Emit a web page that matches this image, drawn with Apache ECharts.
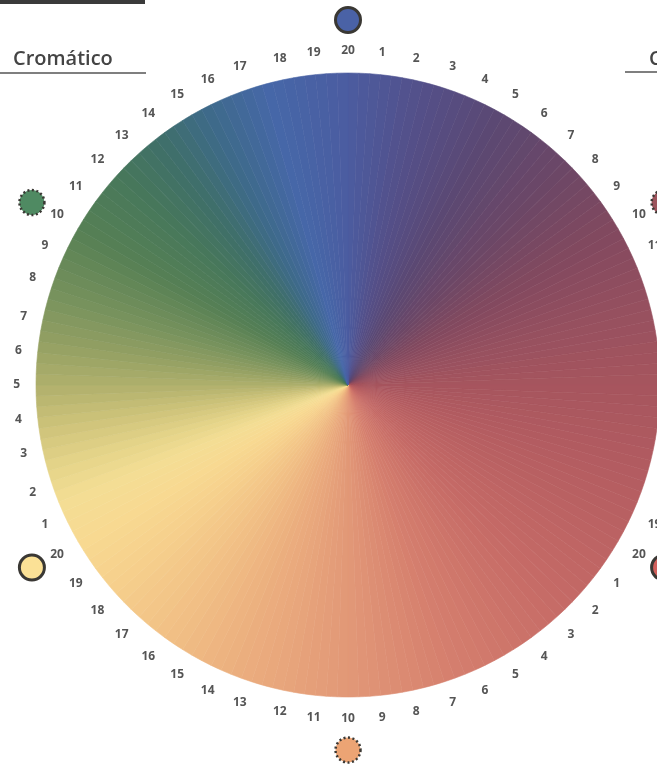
<!DOCTYPE html>
<html>
<head>
<meta charset="utf-8">
<title>Círculo cromático</title>
<script src="https://cdn.jsdelivr.net/npm/echarts@6/dist/echarts.min.js"></script>
<style>
  html, body { margin: 0; padding: 0; background: #fff; }
  #main { width: 657px; height: 767px; }
</style>
</head>
<body>
<div id="main"></div>
<script>
// numeracion de los pasos: 20 pasos entre cada par de primarios (azul, rojo, amarillo)
var stepLabels = [
  '20', '1', '2', '3', '4', '5', '6', '7', '8', '9', '10', '11', '12', '13', '14', '15', '16', '17', '18', '19',
  '20', '1', '2', '3', '4', '5', '6', '7', '8', '9', '10', '11', '12', '13', '14', '15', '16', '17', '18', '19',
  '20', '1', '2', '3', '4', '5', '6', '7', '8', '9', '10', '11', '12', '13', '14', '15', '16', '17', '18', '19'
];

// circulos de referencia (indice del paso donde van)
var markerNames = ['azul', 'violeta', 'rojo', 'naranja', 'amarillo', 'verde'];
var markerSteps = [0, 10, 20, 30, 40, 50];
var markerDotted = [false, true, false, true, false, true];
var markerColors = ['#4a62a6', '#9c545c', '#d2605c', '#eca474', '#fbe196', '#4f8a62'];

// colores del disco: [angulo desde arriba, color]
var wheelStops = [
  [0, '#4b5ca0'], [15, '#544f88'], [30, '#5c4872'], [45, '#6c4766'],
  [60, '#82495f'], [75, '#96505f'], [90, '#a6555e'], [110, '#b55d61'],
  [135, '#c56a66'], [160, '#d57f6e'], [180, '#e29877'], [200, '#ebad7e'],
  [215, '#f1bf85'], [230, '#f6d08c'], [240, '#f8da92'], [248, '#f3dd94'],
  [255, '#e3d388'], [262, '#cec37a'], [270, '#b0b06c'], [278, '#93a063'],
  [288, '#74905c'], [300, '#568054'], [312, '#48785a'], [322, '#3f6f68'],
  [333, '#3e6a8a'], [345, '#4667a8'], [360, '#4b5ca0']
];
var wheelSlices = 180;

function hexToRgb(h) {
  return [parseInt(h.substr(1, 2), 16), parseInt(h.substr(3, 2), 16), parseInt(h.substr(5, 2), 16)];
}
function colorAt(angle) {
  for (var i = 0; i < wheelStops.length - 1; i++) {
    var a = wheelStops[i], b = wheelStops[i + 1];
    if (angle >= a[0] && angle <= b[0]) {
      var t = (angle - a[0]) / (b[0] - a[0]);
      var ca = hexToRgb(a[1]), cb = hexToRgb(b[1]);
      var c = ca.map(function (v, k) { return Math.round(v + (cb[k] - v) * t); });
      return 'rgb(' + c.join(',') + ')';
    }
  }
  return wheelStops[0][1];
}

var sliceData = [];
for (var i = 0; i < wheelSlices; i++) {
  var mid = (i + 0.5) * 360 / wheelSlices;
  var col = colorAt(mid);
  // borde del mismo color para que no queden rendijas blancas entre gajos
  sliceData.push({ value: 1, itemStyle: { color: col, borderColor: col, borderWidth: 0.6 } });
}

var markerData = markerSteps.map(function (s, i) {
  return {
    name: markerNames[i],
    value: [365, s],
    itemStyle: {
      color: markerColors[i],
      opacity: 1,
      borderColor: '#3a3834',
      borderWidth: markerDotted[i] ? 2.5 : 3,
      borderType: markerDotted[i] ? [2, 2.5] : 'solid'
    }
  };
});

var chart = echarts.init(document.getElementById('main'));
var option = {
  backgroundColor: '#fff',
  animation: false,
  title: [
    {
      text: 'Cromático', left: 8, top: 44,
      textStyle: { fontFamily: 'Open Sans', fontWeight: 600, fontSize: 20, color: '#444' }
    },
    {
      text: 'C', left: 644, top: 44,
      textStyle: { fontFamily: 'Open Sans', fontWeight: 600, fontSize: 20, color: '#444' }
    }
  ],
  graphic: [
    { type: 'rect', shape: { x: 0, y: 0, width: 145, height: 4 }, style: { fill: '#3a3a3a' } },
    { type: 'line', shape: { x1: 0, y1: 73, x2: 146, y2: 73 }, style: { stroke: '#555', lineWidth: 1.5 } },
    { type: 'line', shape: { x1: 625, y1: 72, x2: 657, y2: 72 }, style: { stroke: '#555', lineWidth: 1.5 } }
  ],
  polar: { center: [348, 385], radius: 312 },
  angleAxis: {
    type: 'category',
    data: stepLabels,
    boundaryGap: false,
    startAngle: 90,
    clockwise: true,
    axisLine: { show: false },
    axisTick: { show: false },
    splitLine: { show: false },
    axisLabel: {
      interval: 0,
      margin: 16,
      fontFamily: 'Open Sans',
      fontWeight: 'bold',
      fontSize: 12,
      color: '#555'
    }
  },
  radiusAxis: {
    type: 'value', min: 0, max: 312, show: false,
    axisLine: { show: false }, axisLabel: { show: false }, splitLine: { show: false }, axisTick: { show: false }
  },
  series: [
    {
      type: 'pie',
      center: [348, 385],
      radius: [0, 312],
      startAngle: 90,
      clockwise: true,
      silent: true,
      label: { show: false },
      labelLine: { show: false },
      data: sliceData
    },
    {
      type: 'scatter',
      coordinateSystem: 'polar',
      clip: false,
      symbol: 'circle',
      symbolSize: 25,
      silent: true,
      data: markerData
    }
  ]
};
chart.setOption(option);
</script>
</body>
</html>
